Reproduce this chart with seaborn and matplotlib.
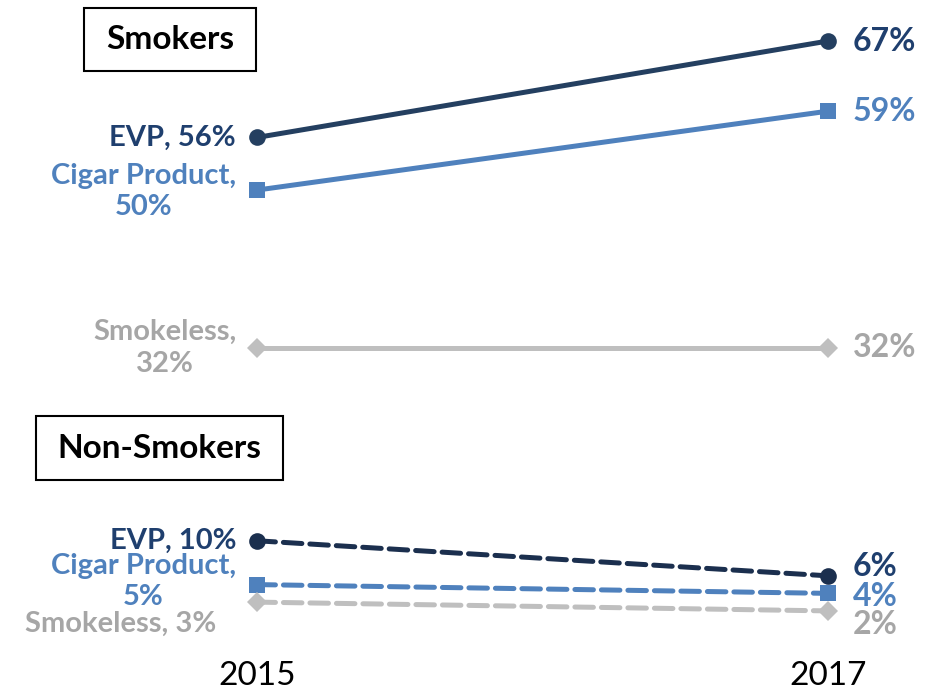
import matplotlib
matplotlib.use("Agg")
import matplotlib.pyplot as plt
from matplotlib.patches import Rectangle
import seaborn as sns
import pandas as pd

# data
years = [2015, 2017]
smokers_evp = [56, 67]
smokers_cigar = [50, 59]
smokers_smokeless = [32, 32]
nonsmokers_evp = [10, 6]
nonsmokers_cigar = [5, 4]
nonsmokers_smokeless = [3, 2]

NAVY = "#243F60"
NAVY_TXT = "#1F3F6E"
BLUE = "#4F81BD"
GREY = "#BFBFBF"
GREY_TXT = "#A6A6A6"

sns.set_theme(style="white")
plt.rcParams["font.family"] = ["Lato", "DejaVu Sans"]

fig = plt.figure(figsize=(9.27, 6.95), dpi=100)
ax = fig.add_axes([0.0, 0.065, 1.0, 0.935])

series = [
    (smokers_evp, NAVY, "o", 12, "-"),
    (smokers_cigar, BLUE, "s", 12, "-"),
    (smokers_smokeless, GREY, "D", 10, "-"),
    (nonsmokers_evp, "#1B2F4E", "o", 12, "--"),
    (nonsmokers_cigar, BLUE, "s", 12, "--"),
    (nonsmokers_smokeless, GREY, "D", 10, "--"),
]

for values, color, marker, ms, ls in series:
    df = pd.DataFrame({"year": years, "pct": values})
    kw = dict(linestyle=ls, linewidth=3.6, marker=marker, markersize=ms,
              markeredgewidth=0, dash_capstyle="round")
    if ls == "--":
        kw["dashes"] = (2.5, 2.4)
    sns.lineplot(data=df, x="year", y="pct", color=color, ax=ax, **kw)

ax.set_xlim(2014.100, 2017.347)
ax.set_ylim(-2.44, 71.68)
ax.set_xticks(years)
ax.set_xticklabels([str(y) for y in years], fontsize=24, color="black")
ax.set_yticks([])
ax.tick_params(axis="x", length=0, pad=8)
ax.set_xlabel("")
ax.set_ylabel("")
for s in ax.spines.values():
    s.set_visible(False)

lab = dict(textcoords="offset points", fontweight="bold", va="center")

# left labels
left = [
    ("EVP, 56%", smokers_evp[0], NAVY_TXT, 0),
    ("Cigar Product,\n50%", smokers_cigar[0], BLUE, -1),
    ("Smokeless,\n32%", smokers_smokeless[0], GREY_TXT, 0),
    ("EVP, 10%", nonsmokers_evp[0], NAVY_TXT, 0),
    ("Cigar Product,\n5%", nonsmokers_cigar[0], BLUE, 2),
]
for text, v, c, dy in left:
    ax.annotate(text, xy=(2015, v), xytext=(-15, dy), ha="right", fontsize=21,
                multialignment="center", color=c, linespacing=1.25, **lab)
ax.annotate("Smokeless, 3%", xy=(2015, nonsmokers_smokeless[0]), xytext=(-29, -16),
            ha="right", color=GREY_TXT, fontsize=21, **lab)

# right labels
right = [
    (smokers_evp[1], NAVY_TXT, 0),
    (smokers_cigar[1], BLUE, 0),
    (smokers_smokeless[1], GREY_TXT, 0),
    (nonsmokers_evp[1], NAVY_TXT, 7),
    (nonsmokers_cigar[1], BLUE, -2),
    (nonsmokers_smokeless[1], GREY_TXT, -10),
]
for v, c, dy in right:
    ax.annotate(f"{v}%", xy=(2017, v), xytext=(18, dy), ha="left", fontsize=23, color=c, **lab)

# title boxes (pixel extents from the reference)
W, H = 927, 695
for (x0, y0, x1, y1), title in [((84, 8, 256, 71), "Smokers"), ((36, 416, 283, 480), "Non-Smokers")]:
    fig.patches.append(Rectangle((x0 / W, 1 - y1 / H), (x1 - x0) / W, (y1 - y0) / H,
                                 transform=fig.transFigure, facecolor="white",
                                 edgecolor="black", linewidth=1.5))
    fig.text((x0 + x1) / 2 / W, 1 - (y0 + y1) / 2 / H, title, ha="center", va="center",
             fontsize=24, fontweight="bold", color="black")

fig.savefig("out.png", dpi=100)
